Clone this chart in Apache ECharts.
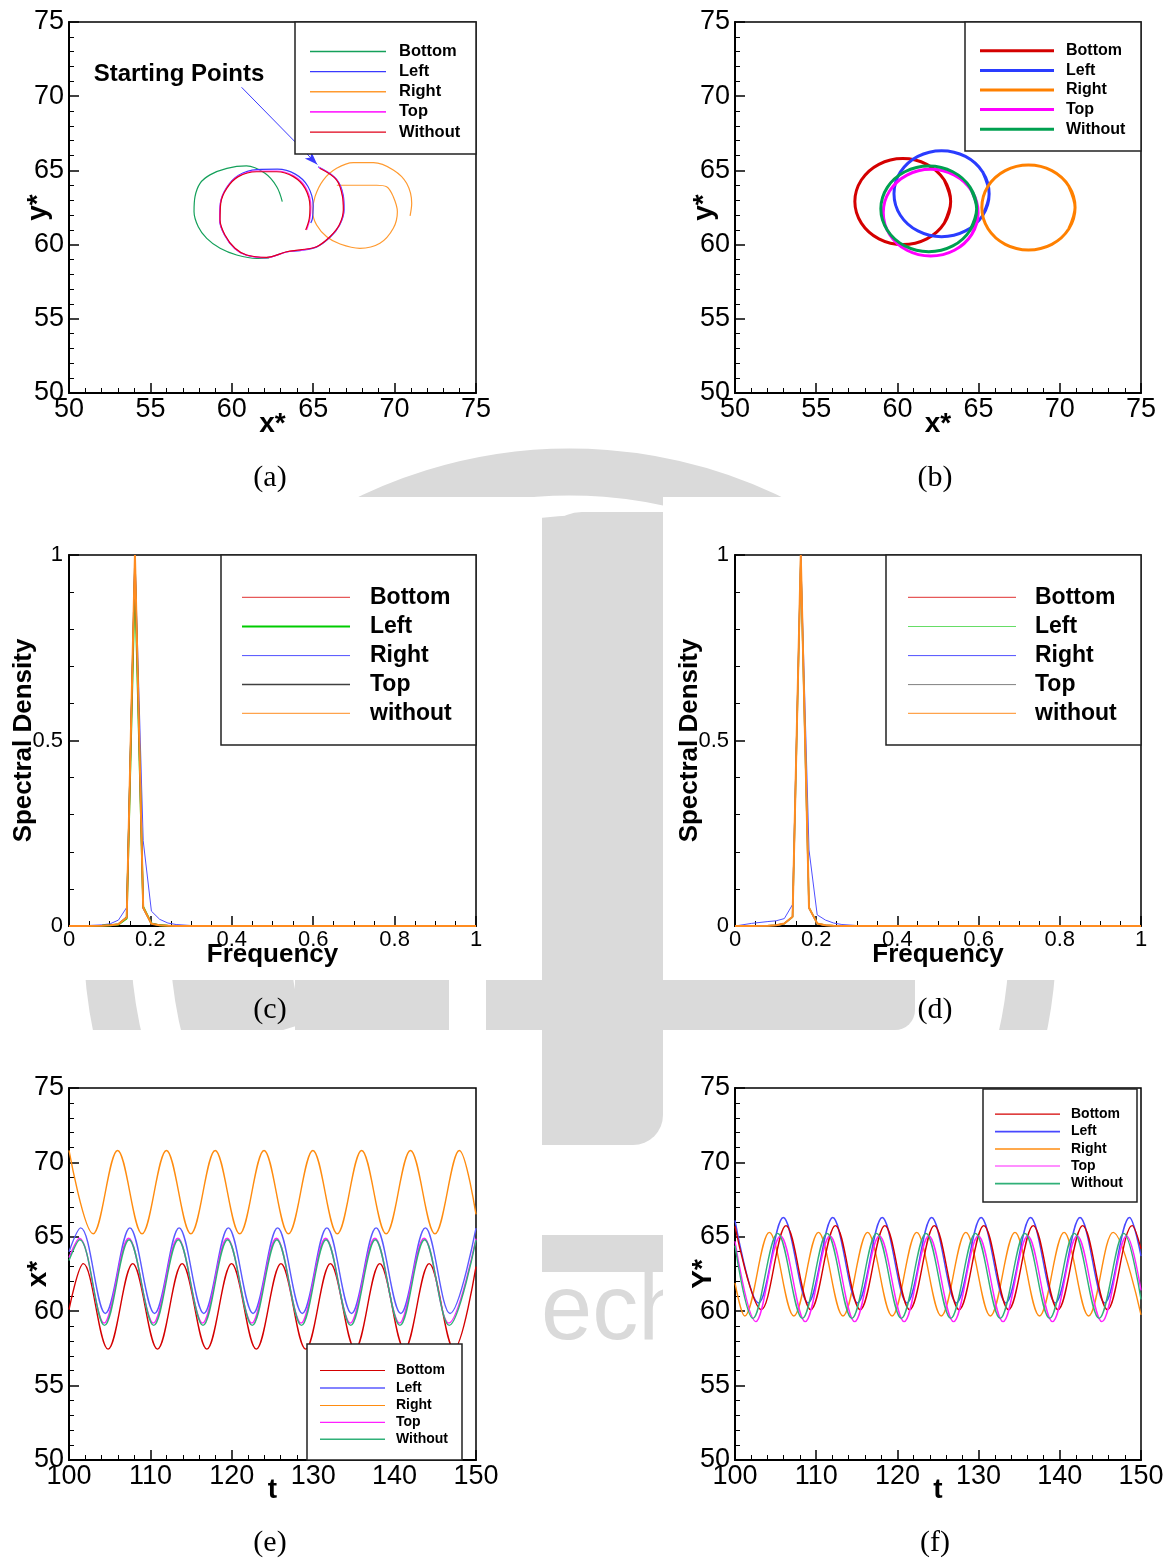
<!DOCTYPE html>
<html><head><meta charset="utf-8">
<script src="https://cdn.jsdelivr.net/npm/echarts@6/dist/echarts.min.js"></script>
<style>html,body{margin:0;padding:0;background:#fff;}#c{width:1173px;height:1562px;}</style>
</head><body><div id="c"></div>
<script>
// ---------- legend labels ----------
const namesAB = ['Bottom', 'Left', 'Right', 'Top', 'Without'];
const namesCD = ['Bottom', 'Left', 'Right', 'Top', 'without'];
const namesEF = ['Bottom', 'Left', 'Right', 'Top', 'Without'];

// ---------- (a) trajectories  [x*, y*] ----------
const aBottom = [[63.1,62.9],[62.76,63.9],[62.04,64.8],[60.9,65.3],[59.7,65.14],[58.66,64.7],[58.05,64.13],[57.74,63.23],[57.68,62.22],[57.94,61.21],[58.46,60.42],[59.28,59.75],[60.3,59.3],[61.53,59.07],[62.3,59.1]];
const aLeft = [[65.3,65.25],[66.4,64.45],[66.85,63.3],[66.9,62.35],[66.62,61.3],[66.05,60.5],[65.2,59.83],[64.2,59.6],[63.35,59.5],[62.12,59.12],[60.9,59.28],[60.18,59.73],[59.55,60.65],[59.25,61.66],[59.3,62.8],[59.68,63.85],[60.42,64.68],[61.55,65.05],[62.8,65.08],[63.9,64.75],[64.68,63.92],[65.0,62.6],[64.95,61.75],[64.85,61.45]];
const aRight = [[70.95,61.93],[71.05,62.78],[70.74,64.13],[69.92,65.03],[68.7,65.52],[67.47,65.52],[66.44,65.14],[65.62,64.35],[65.11,63.23],[64.97,62.22],[65.21,61.32],[65.83,60.53],[66.65,60.04],[67.87,59.75],[69.1,60.09],[69.92,61.1],[70.17,62.22],[69.92,63.23],[69.51,63.9],[68.9,64.0],[67.5,64.0],[66.45,64.0]];
const aTop = [[65.35,65.2],[66.42,64.4],[66.82,63.25],[66.87,62.33],[66.6,61.3],[66.02,60.52],[65.2,59.85],[64.18,59.62],[63.36,59.5],[62.13,59.12],[60.9,59.29],[60.19,59.74],[59.56,60.65],[59.26,61.66],[59.3,62.78],[59.67,63.8],[60.4,64.62],[61.53,64.96],[62.77,64.96],[63.8,64.63],[64.55,63.83],[64.86,62.55],[64.8,61.75],[64.6,61.0]];
const aWithout = [[65.4,65.14],[66.44,64.35],[66.8,63.23],[66.85,62.33],[66.6,61.32],[66.03,60.53],[65.21,59.86],[64.19,59.64],[63.37,59.52],[62.14,59.14],[60.91,59.3],[60.2,59.75],[59.58,60.65],[59.28,61.66],[59.32,62.78],[59.69,63.79],[60.4,64.58],[61.53,64.91],[62.76,64.91],[63.78,64.58],[64.5,63.79],[64.8,62.55],[64.76,61.77],[64.54,60.98]];
const arrowFrom = [60.6, 70.6];
const arrowTo = [65.25, 65.4];

// ---------- (b) trajectories ----------
const bBottom = [[62.89,61.45],[63.28,62.90],[62.89,64.35],[61.81,65.41],[60.33,65.80],[58.86,65.41],[57.78,64.35],[57.38,62.90],[57.78,61.45],[58.86,60.39],[60.33,60.00],[61.81,60.39],[62.89,61.45],[63.28,62.90],[62.89,64.35]];
const bLeft = [[65.26,61.98],[65.65,63.43],[65.26,64.88],[64.19,65.94],[62.72,66.33],[61.26,65.94],[60.18,64.88],[59.79,63.43],[60.18,61.98],[61.26,60.92],[62.72,60.53],[64.19,60.92],[65.26,61.98],[65.65,63.43],[65.26,64.88]];
const bRight = [[70.56,61.07],[70.94,62.50],[70.56,63.93],[69.51,64.98],[68.07,65.36],[66.64,64.98],[65.58,63.93],[65.20,62.50],[65.58,61.07],[66.64,60.02],[68.07,59.64],[69.51,60.02],[70.56,61.07],[70.94,62.50],[70.56,63.93]];
const bTop = [[64.58,60.69],[64.97,62.15],[64.58,63.61],[63.51,64.68],[62.05,65.07],[60.59,64.68],[59.52,63.61],[59.13,62.15],[59.52,60.69],[60.59,59.62],[62.05,59.23],[63.51,59.62],[64.58,60.69],[64.97,62.15],[64.58,63.61]];
const bWithout = [[64.48,60.97],[64.88,62.41],[64.48,63.86],[63.41,64.91],[61.93,65.30],[60.46,64.91],[59.38,63.86],[58.98,62.41],[59.38,60.97],[60.46,59.91],[61.93,59.52],[63.41,59.91],[64.48,60.97],[64.88,62.41],[64.48,63.86]];

// ---------- (c), (d) spectra ----------
const freq = [0, 0.0405, 0.081, 0.1013, 0.1215, 0.1418, 0.1620, 0.1823, 0.2025, 0.2228, 0.2430, 0.2633, 0.3038, 0.4, 0.6, 0.8, 1.0];
const cBottom  = [0, 0, 0.001, 0.002, 0.004, 0.022, 1.00, 0.050, 0.006, 0.002, 0.001, 0, 0, 0, 0, 0, 0];
const cLeft    = [0, 0, 0.001, 0.002, 0.004, 0.020, 0.94, 0.052, 0.007, 0.002, 0.001, 0, 0, 0, 0, 0, 0];
const cRight   = [0, 0.001, 0.003, 0.006, 0.016, 0.050, 1.00, 0.230, 0.040, 0.018, 0.008, 0.004, 0.001, 0, 0, 0, 0];
const cTop     = [0, 0, 0.001, 0.002, 0.005, 0.024, 0.99, 0.048, 0.006, 0.002, 0.001, 0, 0, 0, 0, 0, 0];
const cWithout = [0, 0, 0.001, 0.002, 0.005, 0.023, 1.00, 0.050, 0.006, 0.002, 0.001, 0, 0, 0, 0, 0, 0];
const dBottom  = [0, 0, 0.001, 0.002, 0.007, 0.025, 1.00, 0.049, 0.007, 0.002, 0.001, 0, 0, 0, 0, 0, 0];
const dLeft    = [0, 0, 0.001, 0.002, 0.006, 0.024, 0.98, 0.050, 0.007, 0.002, 0.001, 0, 0, 0, 0, 0, 0];
const dRight   = [0, 0.007, 0.012, 0.014, 0.020, 0.058, 1.00, 0.205, 0.030, 0.016, 0.008, 0.004, 0.001, 0, 0, 0, 0];
const dTop     = [0, 0, 0.001, 0.002, 0.007, 0.025, 0.99, 0.048, 0.007, 0.002, 0.001, 0, 0, 0, 0, 0, 0];
const dWithout = [0, 0, 0.001, 0.002, 0.007, 0.025, 1.00, 0.049, 0.007, 0.002, 0.001, 0, 0, 0, 0, 0, 0];

// ---------- (e) x*(t): extrema ----------
const eBottom = [[100,60.1],[101.76,63.2],[104.80,57.45],[107.83,63.2],[110.87,57.45],[113.90,63.2],[116.94,57.45],[119.97,63.2],[123.01,57.45],[126.04,63.2],[129.08,57.45],[132.11,63.2],[135.15,57.45],[138.18,63.2],[141.22,57.45],[144.25,63.2],[147.29,57.45],[150,63.0]];
const eLeft = [[100,64.0],[101.43,65.6],[104.46,59.85],[107.48,65.6],[110.51,59.85],[113.53,65.6],[116.56,59.85],[119.58,65.6],[122.61,59.85],[125.63,65.6],[128.66,59.85],[131.68,65.6],[134.71,59.85],[137.73,65.6],[140.76,59.85],[143.78,65.6],[146.81,59.85],[150,65.58]];
const eRight = [[100,70.8],[102.97,65.2],[105.97,70.8],[108.97,65.2],[111.97,70.8],[114.97,65.2],[117.96,70.8],[120.97,65.2],[123.96,70.8],[126.96,65.2],[129.96,70.8],[132.96,65.2],[135.95,70.8],[138.96,65.2],[141.95,70.8],[144.96,65.2],[147.95,70.8],[150,66.5]];
const eTop = [[100,63.6],[101.28,64.9],[104.31,59.2],[107.33,64.9],[110.36,59.2],[113.38,64.9],[116.41,59.2],[119.43,64.9],[122.46,59.2],[125.48,64.9],[128.51,59.2],[131.53,64.9],[134.56,59.2],[137.58,64.9],[140.61,59.2],[143.63,64.9],[146.66,59.2],[150,64.88]];
const eWithout = [[100,63.4],[101.33,64.8],[104.36,59.05],[107.38,64.8],[110.41,59.05],[113.43,64.8],[116.46,59.05],[119.48,64.8],[122.51,59.05],[125.53,64.8],[128.56,59.05],[131.58,64.8],[134.61,59.05],[137.63,64.8],[140.66,59.05],[143.68,64.8],[146.71,59.05],[150,64.78]];

// ---------- (f) y*(t) ----------
const fBottom = [[100,65.7],[103.24,60.1],[106.28,65.75],[109.33,60.1],[112.37,65.75],[115.42,60.1],[118.46,65.75],[121.51,60.1],[124.55,65.75],[127.60,60.1],[130.64,65.75],[133.69,60.1],[136.73,65.75],[139.78,60.1],[142.82,65.75],[145.87,60.1],[148.91,65.75],[150,64.2]];
const fLeft = [[100,66.1],[102.91,60.55],[105.95,66.3],[109.00,60.55],[112.04,66.3],[115.09,60.55],[118.13,66.3],[121.18,60.55],[124.22,66.3],[127.27,60.55],[130.31,66.3],[133.36,60.55],[136.40,66.3],[139.45,60.55],[142.49,66.3],[145.54,60.55],[148.58,66.3],[150,63.7]];
const fRight = [[100,61.9],[101.2,59.68],[104.23,65.3],[107.25,59.68],[110.28,65.3],[113.3,59.68],[116.33,65.3],[119.35,59.68],[122.38,65.3],[125.4,59.68],[128.43,65.3],[131.45,59.68],[134.48,65.3],[137.5,59.68],[140.53,65.3],[143.55,59.68],[146.58,65.3],[150,59.75]];
const fTop = [[100,64.7],[102.56,59.3],[105.60,65.05],[108.65,59.3],[111.69,65.05],[114.74,59.3],[117.78,65.05],[120.83,59.3],[123.87,65.05],[126.92,59.3],[129.96,65.05],[133.01,59.3],[136.05,65.05],[139.10,59.3],[142.14,65.05],[145.19,59.3],[148.23,65.05],[150,61.4]];
const fWithout = [[100,64.4],[102.21,59.52],[105.25,65.23],[108.30,59.52],[111.34,65.23],[114.39,59.52],[117.43,65.23],[120.48,59.52],[123.52,65.23],[126.57,59.52],[129.61,65.23],[132.66,59.52],[135.70,65.23],[138.75,59.52],[141.79,65.23],[144.84,59.52],[147.88,65.23],[150,60.8]];

// ---------- styling ----------
const FONT = '"Liberation Sans", Arial, Helvetica, sans-serif';
const colA = ['#14a05a', '#3a3aff', '#ff9a30', '#ff2cff', '#e00018'];
const colB = ['#d40000', '#2a3cff', '#ff8000', '#ff00ff', '#00a050'];
const colC = ['#e03030', '#00cc00', '#5050ff', '#404040', '#ff8c20'];
const colD = ['#e03030', '#66dd66', '#5050ff', '#808080', '#ff8c20'];
const colE = ['#d40000', '#5a5aff', '#ff8c10', '#ff20ff', '#30b078'];
const colF = ['#d40000', '#4848ff', '#ff8c10', '#ff20ff', '#30b078'];

const grids = [
  {left: 69, top: 22, width: 407, height: 371},
  {left: 735, top: 22, width: 406, height: 371},
  {left: 69, top: 555, width: 407, height: 371},
  {left: 735, top: 555, width: 406, height: 371},
  {left: 69, top: 1088, width: 407, height: 372},
  {left: 735, top: 1088, width: 406, height: 372}
].map(g => Object.assign({show: true, borderColor: '#000', borderWidth: 1.5, backgroundColor: 'rgba(0,0,0,0)'}, g));

function axis(g, min, max, interval, minorSplit, fs, margin, name, nameFs, nameGap) {
  return {
    type: 'value', gridIndex: g, min: min, max: max, interval: interval,
    axisLine: {show: true, onZero: false, lineStyle: {color: '#000', width: 2}},
    axisTick: {show: true, inside: true, length: 10, lineStyle: {color: '#000', width: 1.5}},
    minorTick: {show: true, splitNumber: minorSplit, length: 5, lineStyle: {color: '#000', width: 1}},
    splitLine: {show: false}, minorSplitLine: {show: false},
    axisLabel: {color: '#000', fontSize: fs, fontFamily: FONT, margin: margin},
    name: name, nameLocation: 'middle', nameGap: nameGap, nameMoveOverlap: false,
    nameTextStyle: {color: '#000', fontSize: nameFs, fontWeight: 'bold', fontFamily: FONT}
  };
}

const xAxes = [
  axis(0, 50, 75, 5, 5, 27, 3, 'x*', 28, 17),
  axis(1, 50, 75, 5, 5, 27, 3, 'x*', 28, 17),
  axis(2, 0, 1, 0.2, 4, 22, 3, 'Frequency', 26, 16),
  axis(3, 0, 1, 0.2, 4, 22, 3, 'Frequency', 26, 16),
  axis(4, 100, 150, 10, 5, 27, 3, 't', 28, 16),
  axis(5, 100, 150, 10, 5, 27, 3, 't', 28, 16)
];
const yAxes = [
  axis(0, 50, 75, 5, 5, 27, 5, 'y*', 28, 17),
  axis(1, 50, 75, 5, 5, 27, 5, 'y*', 28, 17),
  axis(2, 0, 1, 0.5, 5, 22, 6, 'Spectral Density', 26, 32),
  axis(3, 0, 1, 0.5, 5, 22, 6, 'Spectral Density', 26, 32),
  axis(4, 50, 75, 5, 5, 27, 5, 'x*', 28, 17),
  axis(5, 50, 75, 5, 5, 27, 5, 'Y*', 28, 18)
];

function ln(name, data, idx, color, width, smooth, z) {
  return {
    type: 'line', name: name, data: data, xAxisIndex: idx, yAxisIndex: idx,
    symbol: 'none', showSymbol: false, smooth: smooth || 0,
    lineStyle: {color: color, width: width}, itemStyle: {color: color},
    animation: false, silent: true, z: z || 2
  };
}
function pairs(xs, ys) { return xs.map((x, i) => [x, ys[i]]); }

const series = [
  // (a)
  ln('Bottom', aBottom, 0, colA[0], 1.2, 0.35, 2),
  ln('Right', aRight, 0, colA[2], 1.2, 0.35, 3),
  Object.assign(ln('Left', aLeft, 0, colA[1], 1.2, 0.35, 4), {
    markLine: {
      silent: true, symbol: ['none', 'arrow'], symbolSize: [7, 13], animation: false,
      lineStyle: {color: '#3a3aff', width: 1, type: 'solid'}, label: {show: false},
      data: [[{coord: arrowFrom}, {coord: arrowTo}]]
    }
  }),
  ln('Top', aTop, 0, colA[3], 1.2, 0.35, 5),
  ln('Without', aWithout, 0, colA[4], 1.2, 0.35, 6),
  // (b)
  ln('Bottom', bBottom, 1, colB[0], 3, 0.35, 2),
  ln('Left', bLeft, 1, colB[1], 3, 0.35, 3),
  ln('Right', bRight, 1, colB[2], 3, 0.35, 4),
  ln('Top', bTop, 1, colB[3], 3, 0.35, 5),
  ln('Without', bWithout, 1, colB[4], 3, 0.35, 6),
  // (c)
  ln('Right', pairs(freq, cRight), 2, colC[2], 1, 0, 2),
  ln('Bottom', pairs(freq, cBottom), 2, colC[0], 1, 0, 3),
  ln('Left', pairs(freq, cLeft), 2, colC[1], 1.8, 0, 4),
  ln('Top', pairs(freq, cTop), 2, colC[3], 1.5, 0, 5),
  ln('without', pairs(freq, cWithout), 2, colC[4], 2, 0, 6),
  // (d)
  ln('Right', pairs(freq, dRight), 3, colD[2], 1, 0, 2),
  ln('Bottom', pairs(freq, dBottom), 3, colD[0], 1, 0, 3),
  ln('Left', pairs(freq, dLeft), 3, colD[1], 1.5, 0, 4),
  ln('Top', pairs(freq, dTop), 3, colD[3], 1.5, 0, 5),
  ln('without', pairs(freq, dWithout), 3, colD[4], 2, 0, 6),
  // (e)
  ln('Right', eRight, 4, colE[2], 1.4, 0.36, 2),
  ln('Bottom', eBottom, 4, colE[0], 1.4, 0.36, 3),
  ln('Left', eLeft, 4, colE[1], 1.4, 0.36, 4),
  ln('Top', eTop, 4, colE[3], 1.4, 0.36, 5),
  ln('Without', eWithout, 4, colE[4], 1.4, 0.36, 6),
  // (f)
  ln('Right', fRight, 5, colF[2], 1.4, 0.36, 2),
  ln('Left', fLeft, 5, colF[1], 1.4, 0.36, 3),
  ln('Bottom', fBottom, 5, colF[0], 1.4, 0.36, 4),
  ln('Top', fTop, 5, colF[3], 1.4, 0.36, 5),
  ln('Without', fWithout, 5, colF[4], 1.4, 0.36, 6)
];

// ---------- graphic: watermark, legends, captions ----------
const WM = '#dadada';
const g = [];
// watermark (behind everything)
g.push({type: 'arc', z: -30, silent: true, shape: {cx: 570, cy: 935, r: 463, startAngle: Math.PI - 0.3, endAngle: 2 * Math.PI + 0.3, clockwise: true}, style: {stroke: WM, lineWidth: 47, fill: null}});
g.push({type: 'arc', z: -30, silent: true, shape: {cx: 590, cy: 935, r: 360, startAngle: Math.PI - 0.3, endAngle: 2 * Math.PI, clockwise: true}, style: {stroke: WM, lineWidth: 120, fill: null}});
g.push({type: 'rect', z: -30, silent: true, shape: {x: 542, y: 512, width: 121, height: 633, r: [40, 0, 30, 0]}, style: {fill: WM}});
g.push({type: 'rect', z: -30, silent: true, shape: {x: 295, y: 980, width: 154, height: 50}, style: {fill: WM}});
g.push({type: 'rect', z: -30, silent: true, shape: {x: 486, y: 980, width: 60, height: 50}, style: {fill: WM}});
g.push({type: 'rect', z: -30, silent: true, shape: {x: 660, y: 980, width: 255, height: 50, r: [0, 0, 20, 0]}, style: {fill: WM}});
g.push({type: 'rect', z: -30, silent: true, shape: {x: 542, y: 1235, width: 121, height: 37}, style: {fill: WM}});
g.push({type: 'text', z: -30, silent: true, style: {text: 'ech', x: 541, y: 1360, fill: WM, font: '92px "Liberation Sans", sans-serif', align: 'left', verticalAlign: 'bottom'}});
// white panel backgrounds
[[0, 0, 542, 447], [663, 0, 510, 447], [0, 497, 542, 483], [663, 497, 510, 483], [0, 1030, 542, 532], [663, 1030, 510, 532]].forEach(r => {
  g.push({type: 'rect', z: -20, silent: true, shape: {x: r[0], y: r[1], width: r[2], height: r[3]}, style: {fill: '#fff'}});
});

function legend(box, x1, x2, tx, rows, names, cols, lw, font, bw) {
  g.push({type: 'rect', z: 50, silent: true, shape: {x: box[0], y: box[1], width: box[2], height: box[3]}, style: {fill: '#fff', stroke: '#222', lineWidth: bw}});
  names.forEach((n, i) => {
    g.push({type: 'line', z: 51, silent: true, shape: {x1: x1, y1: rows[i], x2: x2, y2: rows[i]}, style: {stroke: cols[i], lineWidth: lw[i]}});
    g.push({type: 'text', z: 51, silent: true, style: {text: n, x: tx, y: rows[i], fill: '#000', font: font, align: 'left', verticalAlign: 'middle'}});
  });
}
legend([295, 22, 181, 132], 310, 386, 399, [51.5, 71.7, 91.8, 111.9, 132.2], namesAB, colA, [1.3, 1.3, 1.6, 1.6, 1.3], 'bold 16.5px ' + FONT, 1.5);
legend([965, 22, 176, 129], 980, 1054, 1066, [50.8, 70.6, 90, 109.4, 129.2], namesAB, colB, [3, 3, 3, 3, 3], 'bold 16px ' + FONT, 1.5);
legend([221, 555, 255, 190], 242, 350, 370, [597.3, 626.5, 655.6, 684.6, 713.3], namesCD, colC, [1, 2, 1, 1.5, 1], 'bold 23px ' + FONT, 1.5);
legend([886, 555, 255, 190], 908, 1016, 1035, [597.3, 626.5, 655.6, 684.6, 713.3], namesCD, colD, [1, 1, 1, 1, 1], 'bold 23px ' + FONT, 1.5);
legend([307, 1344, 155, 116], 320, 385, 396, [1370.5, 1388, 1405.5, 1422.3, 1439.3], namesEF, colE, [1.2, 1.6, 1.2, 1.2, 1.6], 'bold 14px ' + FONT, 1.5);
legend([983, 1089, 154, 113], 995, 1060, 1071, [1114.2, 1131.6, 1149, 1166, 1183.6], namesEF, colF, [1.2, 1.6, 1.6, 1.2, 1.8], 'bold 14px ' + FONT, 1.5);

// annotation text in (a)
g.push({type: 'text', z: 60, silent: true, style: {text: 'Starting Points', x: 179, y: 74, fill: '#000', font: 'bold 24px ' + FONT, align: 'center', verticalAlign: 'middle'}});

// sub-captions
[['(a)', 270, 478], ['(b)', 935, 478], ['(c)', 270, 1010], ['(d)', 935, 1010], ['(e)', 270, 1543], ['(f)', 935, 1543]].forEach(c => {
  g.push({type: 'text', z: 60, silent: true, style: {text: c[0], x: c[1], y: c[2], fill: '#000', font: '30px "Liberation Serif", "DejaVu Serif", serif', align: 'center', verticalAlign: 'middle'}});
});

const chart = echarts.init(document.getElementById('c'), null, {renderer: 'canvas'});
chart.setOption({
  animation: false,
  backgroundColor: '#fff',
  grid: grids,
  xAxis: xAxes,
  yAxis: yAxes,
  series: series,
  graphic: {elements: g}
});
</script>
</body></html>
